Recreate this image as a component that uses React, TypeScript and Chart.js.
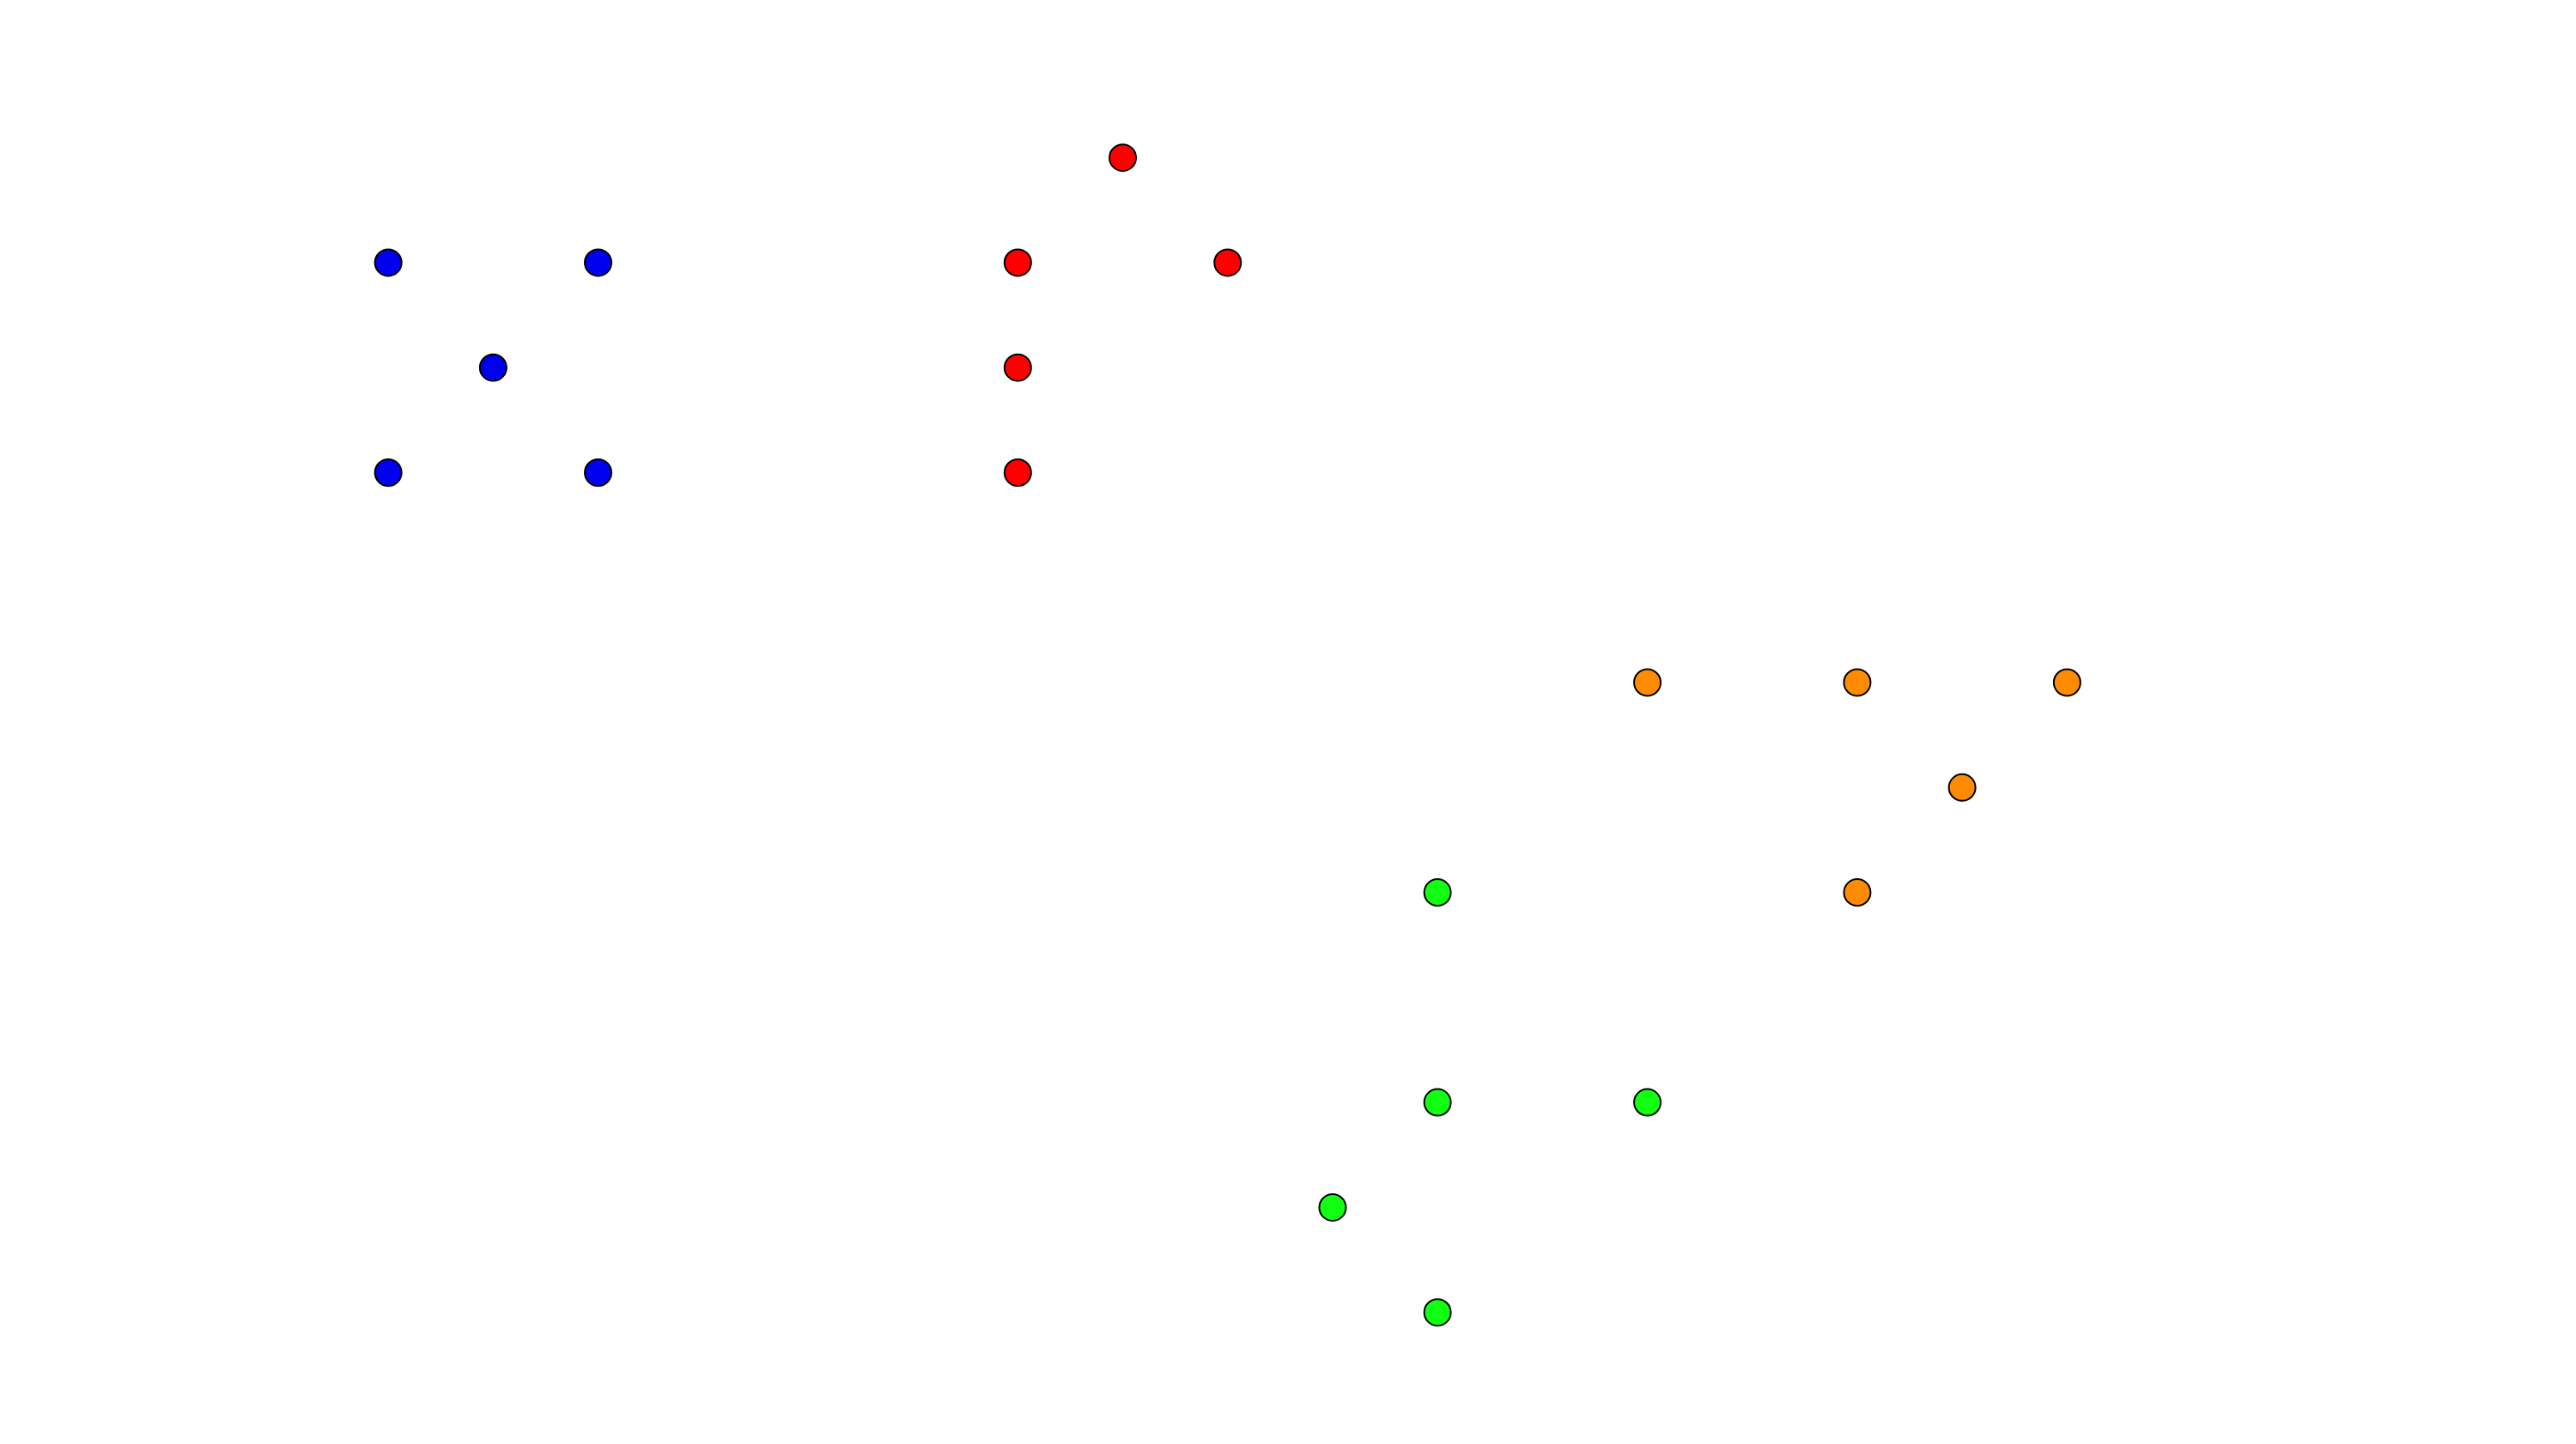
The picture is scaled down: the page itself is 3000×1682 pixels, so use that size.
import React, { useEffect, useRef } from "react";
import { Chart, registerables } from "chart.js";

Chart.register(...registerables);

// Grid positions of the points (x to the right, y upward)
const blueX = [0, 2, 1, 0, 2];
const blueY = [10, 10, 9, 8, 8];
const redX = [7, 6, 8, 6, 6];
const redY = [11, 10, 10, 9, 8];
const orangeX = [12, 14, 16, 15, 14];
const orangeY = [6, 6, 6, 5, 4];
const greenX = [10, 10, 12, 9, 10];
const greenY = [4, 2, 2, 1, 0];

const seriesNames = ["Blue", "Red", "Orange", "Green"];
const seriesColors = ["#0000ee", "#ff0000", "#ff8c00", "#11ff11"];

const xRange = [-3.7, 20.85];
const yRange = [-1.254, 12.502];

const zip = (xs: number[], ys: number[]) => xs.map((x, i) => ({ x, y: ys[i] }));

export default function App() {
  const ref = useRef<HTMLCanvasElement | null>(null);
  useEffect(() => {
    if (!ref.current) return;
    const all = [
      zip(blueX, blueY),
      zip(redX, redY),
      zip(orangeX, orangeY),
      zip(greenX, greenY),
    ];
    const chart = new Chart(ref.current, {
      type: "scatter",
      data: {
        datasets: all.map((d, i) => ({
          label: seriesNames[i],
          data: d,
          backgroundColor: seriesColors[i],
          borderColor: "#000000",
          borderWidth: 2,
          pointRadius: 15.5,
          pointHoverRadius: 15.5,
        })),
      },
      options: {
        animation: false,
        responsive: true,
        maintainAspectRatio: false,
        layout: { padding: 0, autoPadding: false },
        plugins: { legend: { display: false }, tooltip: { enabled: false } },
        scales: {
          x: { type: "linear", display: false, min: xRange[0], max: xRange[1] },
          y: { type: "linear", display: false, min: yRange[0], max: yRange[1] },
        },
      },
    });
    return () => chart.destroy();
  }, []);
  return (
    <div style={{ position: "fixed", left: 0, top: 0, width: 3000, height: 1682, background: "#fff" }}>
      <canvas ref={ref} />
    </div>
  );
}
